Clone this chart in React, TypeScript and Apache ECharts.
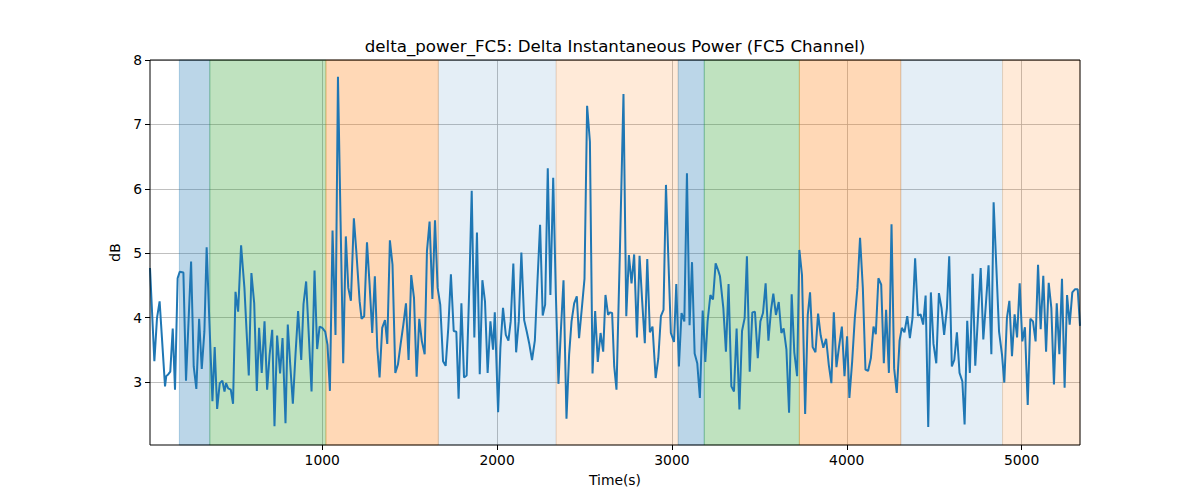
import React, { useEffect, useRef } from "react";
import * as echarts from "echarts";

const TITLE = "delta_power_FC5: Delta Instantaneous Power (FC5 Channel)";
const X_NAME = "Time(s)";
const Y_NAME = "dB";
const X_TICKS = [1000, 2000, 3000, 4000, 5000];
const Y_TICKS = [3, 4, 5, 6, 7, 8];
const X_RANGE = [15, 5334];
const Y_RANGE = [2.02, 8];

// shaded stage spans: [start time, end time, stage kind index]
const SPANS: [number, number, number][] = [
  [183, 357, 0],
  [357, 1021, 1],
  [1021, 1664, 2],
  [1664, 2338, 3],
  [2338, 3036, 4],
  [3036, 3185, 0],
  [3185, 3729, 1],
  [3729, 4309, 2],
  [4309, 4891, 3],
  [4891, 5334, 4],
];

const SPAN_COLORS = [
  "rgba(31,119,180,0.3)",
  "rgba(44,160,44,0.3)",
  "rgba(255,127,14,0.3)",
  "rgba(31,119,180,0.12)",
  "rgba(255,127,14,0.16)",
];

// [time (s), dB]
const SAMPLES: [number, number][] = [
  [15, 4.77], [40, 3.32], [55, 3.99], [70, 4.25], [101, 2.93], [108, 3.09], [120, 3.12], [131, 3.16], [145, 3.83], [158, 2.88],
  [173, 4.61], [185, 4.71], [206, 4.7], [221, 3.02], [250, 4.87], [265, 3.24], [280, 2.89], [296, 3.98], [311, 3.2], [326, 3.78],
  [339, 5.09], [355, 3.91], [372, 2.7], [385, 3.54], [399, 2.58], [414, 2.98], [429, 3.02], [441, 2.85], [450, 2.98], [462, 2.9],
  [477, 2.88], [490, 2.66], [504, 4.4], [519, 4.09], [536, 5.12], [555, 4.46], [580, 3.1], [595, 4.69], [611, 4.22], [626, 2.86],
  [639, 3.84], [654, 3.14], [670, 3.94],
  [685, 2.88], [699, 3.42], [714, 3.81], [727, 2.31], [742, 3.72], [759, 3.13], [773, 3.68], [790, 2.36], [803, 3.89], [817, 3.27],
  [832, 2.66], [847, 3.42], [862, 4.1], [880, 3.34], [893, 4.21], [908, 4.56], [924, 3.68], [939, 2.85], [956, 4.73], [971, 3.51],
  [985, 3.86], [1000, 3.84], [1017, 3.78], [1030, 3.58], [1044, 2.86], [1059, 5.35], [1076, 3.73], [1090, 7.74], [1105, 5.49], [1120, 3.29],
  [1135, 5.26], [1149, 4.46], [1164, 4.26], [1181, 5.54], [1195, 5.03], [1214, 4.25], [1225, 3.98], [1240, 4.02], [1256, 5.17], [1271, 4.51],
  [1286, 3.76], [1301, 4.64], [1315, 3.53], [1328, 3.07],
  [1343, 3.84], [1359, 3.96], [1372, 3.59], [1387, 5.2], [1402, 4.82], [1418, 3.14], [1433, 3.27], [1448, 3.58], [1464, 3.89], [1479, 4.22],
  [1494, 3.34], [1509, 4.66], [1525, 4.3], [1540, 3.08], [1555, 3.98], [1570, 3.63], [1586, 3.43], [1599, 5.03], [1614, 5.49], [1630, 4.29],
  [1645, 5.51], [1660, 4.46], [1675, 4.2], [1691, 3.32], [1706, 3.25], [1721, 3.84], [1736, 4.67], [1752, 3.79], [1767, 3.78], [1780, 2.74],
  [1796, 4.22], [1811, 3.07], [1826, 3.1], [1841, 4.46], [1855, 5.97], [1870, 3.69], [1885, 5.32], [1901, 3.12], [1916, 4.58], [1931, 4.25],
  [1946, 3.14], [1962, 3.94], [1977, 3.5],
  [1987, 4.08], [2006, 2.53], [2019, 3.53], [2034, 4.15], [2050, 3.73], [2065, 3.64], [2078, 3.94], [2093, 4.84], [2109, 3.46], [2124, 3.94],
  [2139, 5.01], [2155, 3.96], [2170, 3.78], [2185, 3.58], [2200, 3.34], [2216, 3.64], [2231, 4.56], [2246, 5.44], [2261, 4.03], [2275, 4.2],
  [2290, 6.32], [2305, 4.35], [2321, 6.17], [2336, 4.39], [2351, 2.97], [2365, 3.8], [2380, 4.58], [2397, 2.43], [2412, 3.42], [2426, 3.94],
  [2441, 4.22], [2456, 4.33], [2469, 3.68], [2485, 4.15], [2500, 4.6], [2515, 7.29], [2531, 6.73], [2546, 3.13], [2561, 4.1], [2576, 3.31],
  [2592, 3.76], [2607, 3.47], [2620, 4.35], [2635, 4.04],
  [2645, 4.08], [2658, 4.07], [2670, 3.24], [2683, 2.88], [2702, 4.97], [2723, 7.47], [2739, 4.02], [2754, 4.97], [2769, 4.53], [2784, 4.98],
  [2800, 3.69], [2815, 4.96], [2830, 4.25], [2845, 3.6], [2859, 4.91], [2874, 3.77], [2889, 3.86], [2907, 3.06], [2922, 3.36], [2937, 4.02],
  [2952, 4.12], [2966, 6.06], [2979, 4.97], [2994, 3.76], [3012, 3.62], [3025, 4.52], [3040, 3.24], [3055, 4.07], [3071, 3.94], [3086, 6.24],
  [3101, 3.88], [3115, 4.86], [3130, 3.44], [3145, 3.29], [3160, 2.75], [3176, 4.11], [3191, 3.31], [3204, 3.94], [3220, 4.35], [3235, 4.28],
  [3250, 4.84], [3265, 4.73], [3275, 4.64],
  [3294, 4.15], [3309, 3.47], [3324, 4.52], [3340, 2.93], [3355, 2.85], [3370, 3.83], [3386, 2.57], [3401, 3.79], [3416, 3.99], [3429, 4.95],
  [3445, 3.16], [3460, 4.08], [3475, 4.09], [3491, 3.37], [3506, 3.94], [3521, 4.07], [3536, 4.53], [3552, 3.64], [3567, 4.12], [3580, 4.37],
  [3595, 4.04], [3611, 4.24], [3626, 3.76], [3639, 3.83], [3655, 3.5], [3670, 2.52], [3685, 4.36], [3700, 3.46], [3716, 3.09], [3729, 5.05],
  [3744, 4.66], [3762, 2.5], [3777, 4.04], [3790, 4.39], [3805, 3.54], [3821, 3.46], [3836, 4.06], [3851, 3.72], [3866, 3.53], [3882, 3.67],
  [3897, 3.27], [3912, 2.98], [3926, 4.08], [3941, 3.23], [3956, 3.55],
  [3972, 3.86], [3987, 3.09], [4002, 3.71], [4015, 2.75], [4031, 3.32], [4046, 3.99], [4061, 4.46], [4076, 5.24], [4092, 4.46], [4107, 3.19],
  [4122, 3.17], [4138, 3.37], [4153, 3.86], [4166, 3.74], [4181, 4.61], [4197, 4.51], [4212, 3.29], [4225, 4.12], [4241, 3.14], [4256, 5.45],
  [4271, 3.21], [4286, 2.83], [4302, 3.64], [4315, 3.84], [4330, 3.77], [4346, 4.02], [4361, 3.68], [4376, 3.99], [4391, 4.92], [4407, 4.03],
  [4422, 4.05], [4437, 3.89], [4451, 4.34], [4466, 2.3], [4481, 4.39], [4496, 3.59], [4512, 3.29], [4527, 4.38], [4542, 4.15], [4557, 3.73],
  [4573, 4.15], [4586, 4.95], [4601, 3.24],
  [4615, 3.34], [4630, 3.77], [4645, 3.14], [4661, 3.01], [4674, 2.34], [4689, 3.95], [4704, 3.14], [4720, 4.68], [4735, 3.25], [4750, 3.99],
  [4766, 4.77], [4781, 3.66], [4796, 4.22], [4811, 4.81], [4827, 3.43], [4840, 5.79], [4855, 4.82], [4871, 3.78], [4888, 3.42], [4901, 2.99],
  [4916, 3.99], [4930, 4.26], [4945, 3.4], [4960, 4.05], [4974, 3.69], [4989, 4.53], [5004, 3.63], [5019, 3.85], [5035, 2.64], [5050, 3.98],
  [5065, 3.94], [5080, 3.63], [5094, 4.82], [5109, 3.82], [5124, 4.65], [5140, 3.47], [5155, 4.54], [5170, 4.15], [5185, 2.96], [5201, 4.22],
  [5216, 3.43], [5231, 4.6], [5246, 2.91], [5260, 4.35], [5275, 3.89], [5290, 4.39], [5306, 4.44], [5321, 4.44], [5334, 3.87],
];

const FONT = "DejaVu Sans";

export default function App() {
  const ref = useRef<HTMLDivElement>(null);
  useEffect(() => {
    if (!ref.current) return;
    const chart = echarts.init(ref.current, null, { renderer: "svg" });
    const tickStyle = { show: true, length: 5, lineStyle: { color: "#000", width: 1 } };
    const labelStyle = { fontSize: 13.89, color: "#000", fontFamily: FONT };
    chart.setOption({
      animation: false,
      textStyle: { fontFamily: FONT },
      grid: {
        left: 150, right: 120, top: 60, bottom: 55,
        show: true, borderColor: "#000", borderWidth: 1, backgroundColor: "transparent", z: 4,
      },
      graphic: [
        {
          type: "text", x: 615, y: 46.5, z: 10,
          style: {
            text: TITLE, fontSize: 16.67, fontFamily: FONT, fill: "#000",
            textAlign: "center", textVerticalAlign: "middle", align: "center", verticalAlign: "middle",
          },
        },
      ],
      xAxis: {
        type: "value", min: X_RANGE[0], max: X_RANGE[1], z: 1,
        name: X_NAME, nameLocation: "middle", nameGap: 28,
        nameTextStyle: { ...labelStyle },
        axisLine: { show: false },
        axisTick: { ...tickStyle, customValues: X_TICKS },
        axisLabel: { ...labelStyle, margin: 8, customValues: X_TICKS, formatter: (v: number) => String(v) },
        splitLine: { show: true, lineStyle: { color: "#b0b0b0", width: 0.8 } },
      },
      yAxis: {
        type: "value", min: Y_RANGE[0], max: Y_RANGE[1], z: 1,
        name: Y_NAME, nameLocation: "middle", nameGap: 26,
        nameTextStyle: { ...labelStyle },
        axisLine: { show: false },
        axisTick: { ...tickStyle, customValues: Y_TICKS },
        axisLabel: { ...labelStyle, margin: 8, customValues: Y_TICKS, formatter: (v: number) => String(v) },
        splitLine: { show: true, lineStyle: { color: "#b0b0b0", width: 0.8 } },
      },
      series: [
        {
          type: "line", data: [], z: 0, silent: true,
          markArea: {
            silent: true,
            label: { show: false },
            data: SPANS.map(([s, e, k]) => [
              { xAxis: s, itemStyle: { color: SPAN_COLORS[k], borderColor: SPAN_COLORS[k], borderWidth: 1 } },
              { xAxis: e },
            ]),
          },
        },
        {
          type: "line", data: SAMPLES, z: 3, silent: true,
          symbol: "none",
          lineStyle: { color: "#1f77b4", width: 2 },
        },
      ],
    });
    return () => chart.dispose();
  }, []);
  return <div ref={ref} style={{ position: "absolute", left: 0, top: 0, width: 1200, height: 500 }} />;
}
